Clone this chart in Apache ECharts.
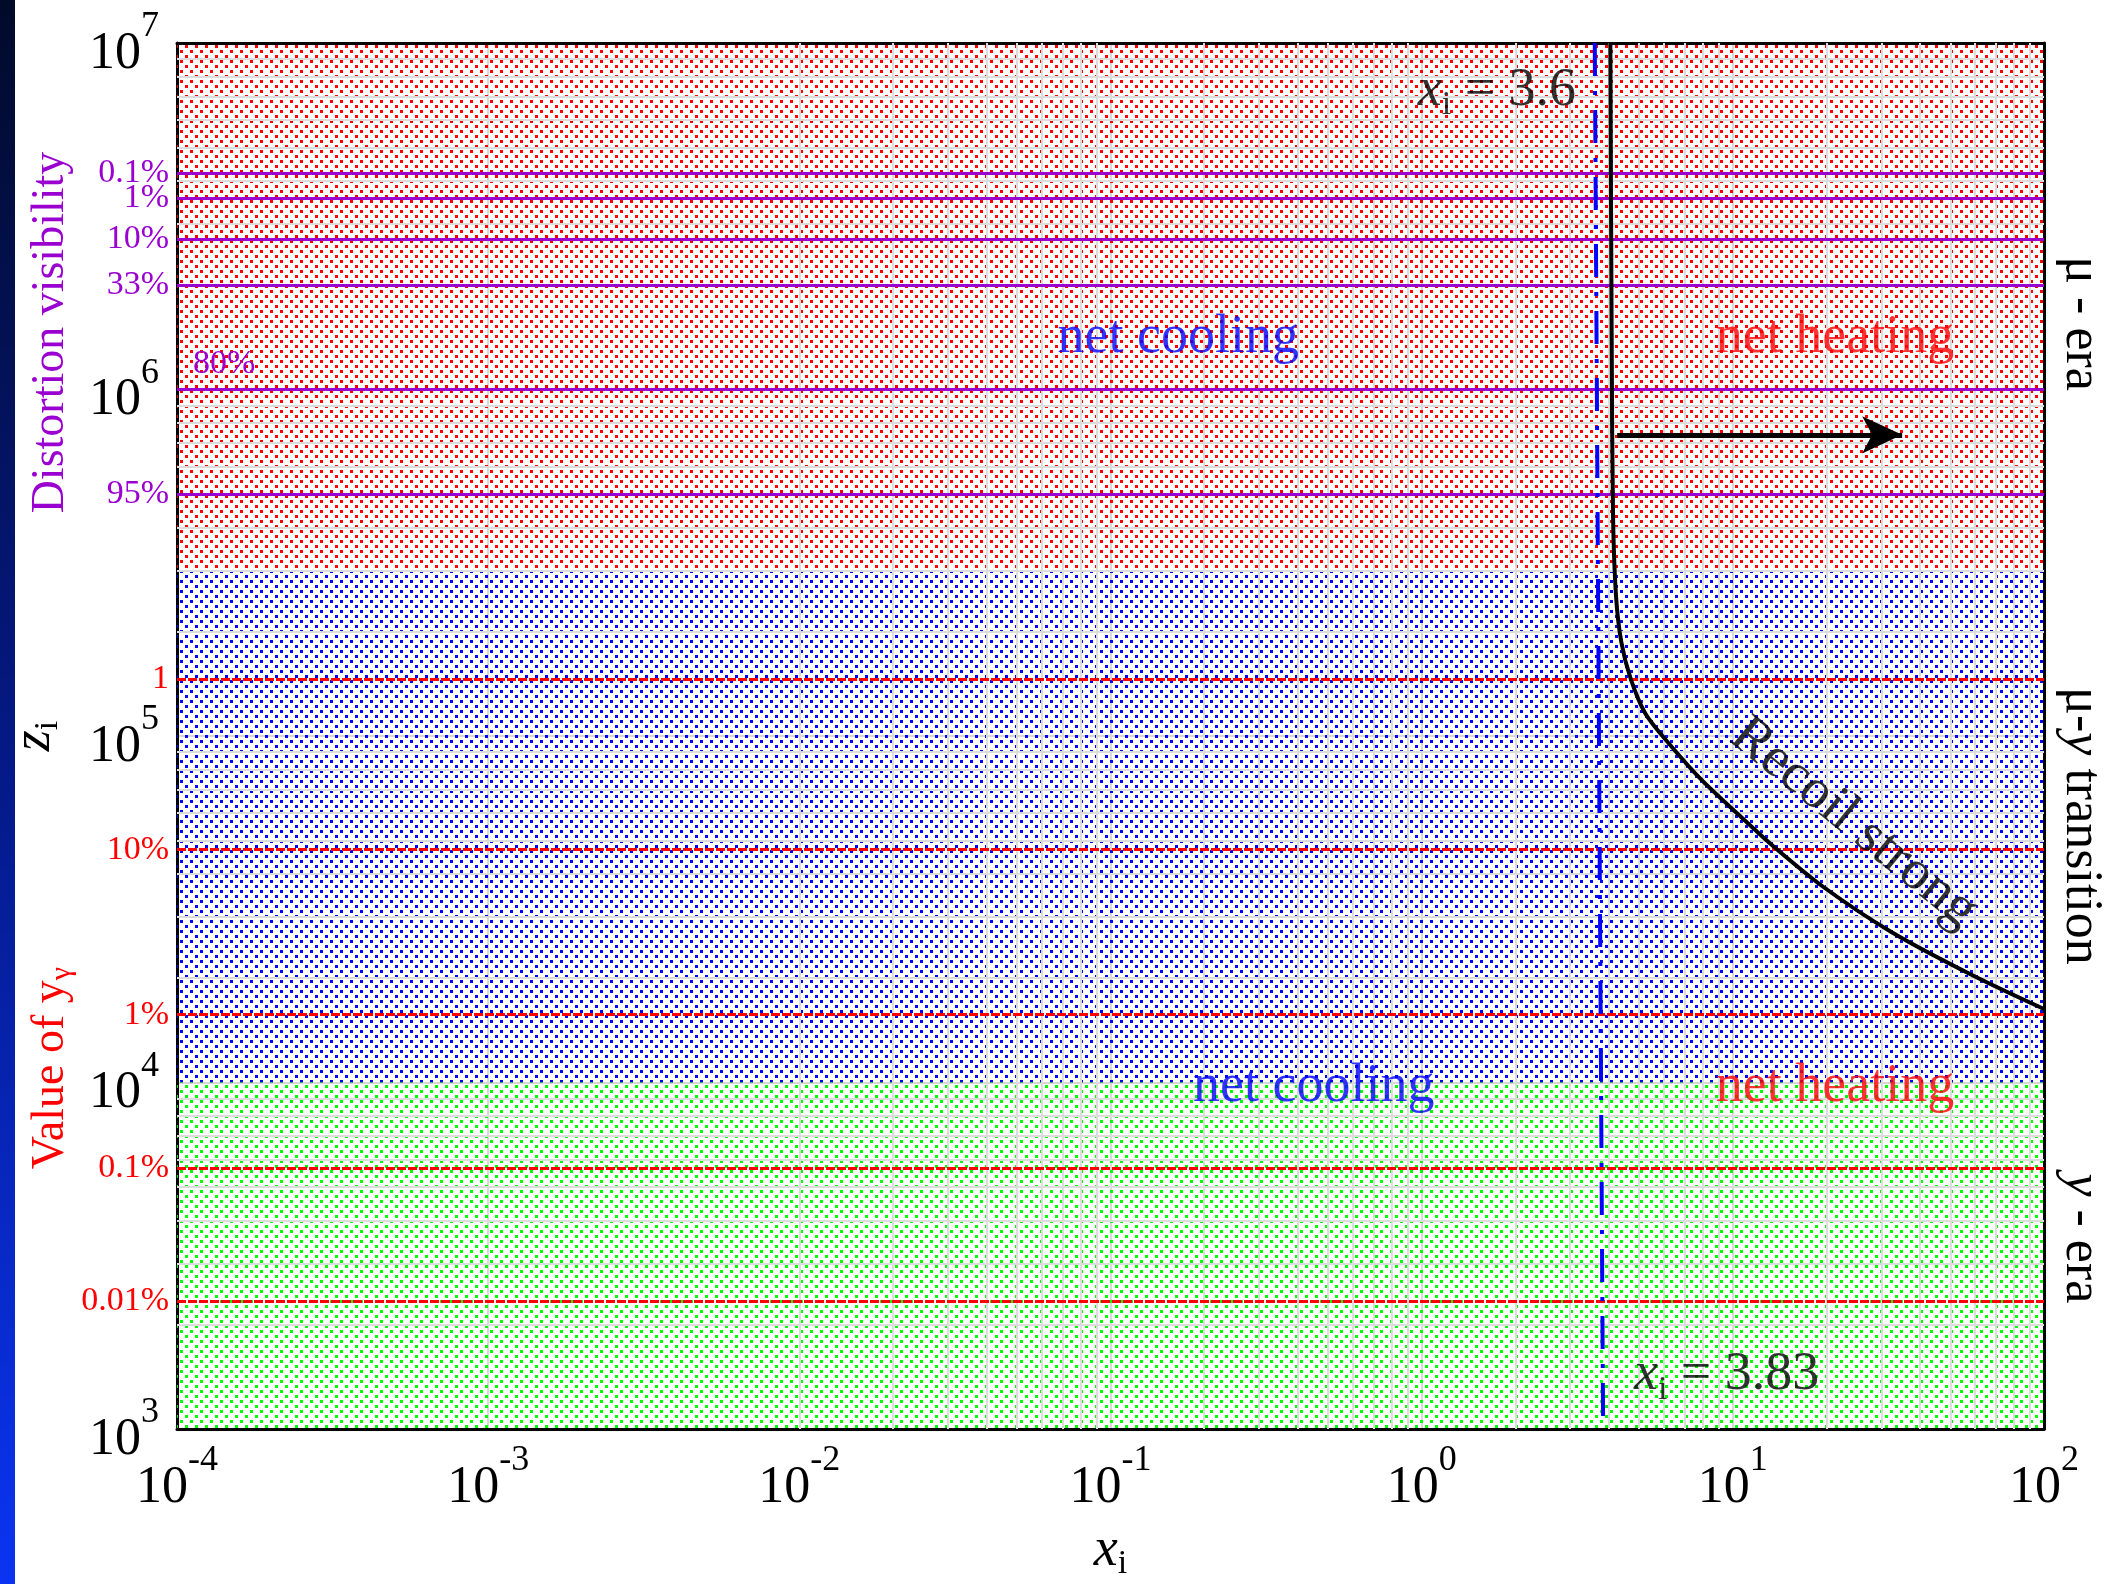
<!DOCTYPE html>
<html>
<head>
<meta charset="utf-8">
<script src="https://cdn.jsdelivr.net/npm/echarts@6/dist/echarts.min.js"></script>
<style>
* { margin: 0; padding: 0; }
html, body { background: #fff; }
#main { width: 2118px; height: 1584px; }
</style>
</head>
<body>
<div id="main"></div>
<script>
// ---- data ----
// decades on the axes (log10)
var xExp = [-4, -3, -2, -1, 0, 1, 2];
var yExp = [3, 4, 5, 6, 7];
var minorMult = [2, 3, 4, 5, 6, 7, 8, 9];

// eras (z ranges)
var eraNames = ['μ - era', 'μ-y transition', 'y - era'];
var eraLow = [3e5, 1e4, 1e3];
var eraHigh = [1e7, 3e5, 1e4];
var eraLabelZ = [1.55e6, 5.5e4, 3.55e3];

// distortion visibility (purple lines)
var visLabels = ['0.1%', '1%', '10%', '33%', '80%', '95%'];
var visZ = [4.22e6, 3.56e6, 2.72e6, 2.0e6, 1.0e6, 5.0e5];

// value of y_gamma (red lines)
var yLabels = ['1', '10%', '1%', '0.1%', '0.01%'];
var yZ = [1.46e5, 4.7e4, 1.57e4, 5.65e3, 2.34e3];

// x_i dash-dot line
var xiLineX = [3.6, 3.83];
var xiLineZ = [1e7, 1e3];

// recoil boundary curve
var recoilX = [4.04, 4.08, 4.12, 4.21, 4.38, 4.70, 5.24, 6.21, 7.98, 10.76, 13.55, 19.6, 32.3, 58.9, 100];
var recoilZ = [1e7, 1.41e6, 4.4e5, 2.56e5, 1.87e5, 1.46e5, 1.16e5, 9.55e4, 7.43e4, 5.78e4, 4.79e4, 3.66e4, 2.72e4, 2.04e4, 1.63e4];

// arrow
var arrowX = [4.25, 35];
var arrowZ = 7.4e5;

// text notes in the plot
var noteText = ['net cooling', 'net heating', 'net cooling', 'net heating'];
var noteX = [0.165, 21.3, 0.45, 21.3];
var noteZ = [1.41e6, 1.41e6, 9.7e3, 9.7e3];
var xiValues = ['3.6', '3.83'];
var xiTextX = [1.745, 9.55];
var xiTextZ = [7.3e6, 1.43e3];
var recoilText = 'Recoil strong';
var recoilTextPos = [24.5, 5.6e4];

// side titles
var sideTitleZ = [1.46e6, 1.1e4];

// ---- styles ----
var FONT = '"Liberation Serif", "Times New Roman", Times, serif';
var PURPLE = '#9A00D0';
var RED = '#FF0000';
var BLUE = '#0000FF';
var eraDotColor = ['#FF0000', '#0000FF', '#00FF00'];
var noteColor = [BLUE, RED, BLUE, RED];

function dots(color) {
  var c = document.createElement('canvas');
  c.width = 10;
  c.height = 10;
  var g = c.getContext('2d');
  g.fillStyle = color;
  g.fillRect(0, 0, 3, 3);
  g.fillRect(5, 5, 3, 3);
  return c;
}

function powLabel(v) {
  return '{b|10}{s|' + Math.round(Math.log10(v)) + '}';
}
var powRich = {
  b: { fontFamily: FONT, fontSize: 52, color: '#000', padding: [22, 0, 0, 0] },
  s: { fontFamily: FONT, fontSize: 36, color: '#000', padding: [0, 0, 32, 0] }
};

var gridData = [];
xExp.slice(0, -1).forEach(function (e) {
  minorMult.forEach(function (m) { gridData.push({ xAxis: m * Math.pow(10, e) }); });
});
yExp.slice(0, -1).forEach(function (e) {
  minorMult.forEach(function (m) { gridData.push({ yAxis: m * Math.pow(10, e) }); });
});

var chart = echarts.init(document.getElementById('main'));

var borderAxis = {
  axisLine: { show: true, lineStyle: { color: '#000', width: 3 } },
  axisTick: { show: false },
  axisLabel: { show: false },
  splitLine: { show: false }
};

var option = {
  animation: false,
  backgroundColor: '#fff',
  grid: { left: 177, right: 74, top: 43, bottom: 155, containLabel: false, outerBoundsMode: 'none' },
  xAxis: [{
    type: 'log', logBase: 10, min: 1e-4, max: 100, splitNumber: 6,
    axisLine: { show: true, lineStyle: { color: '#000', width: 3 } },
    axisTick: { show: false },
    splitLine: { show: true, lineStyle: { color: '#d8d8d8', width: 2 } },
    axisLabel: { margin: 11, formatter: powLabel, rich: powRich, showMinLabel: true, showMaxLabel: true },
    name: '{it|x}{sub|i}', nameLocation: 'middle', nameGap: 92,
    nameTextStyle: {
      rich: {
        it: { fontFamily: FONT, fontStyle: 'italic', fontSize: 54, color: '#000' },
        sub: { fontFamily: FONT, fontSize: 34, color: '#000', padding: [26, 0, 0, 0] }
      }
    }
  }, Object.assign({ type: 'log', logBase: 10, min: 1e-4, max: 100, position: 'top' }, borderAxis)],
  yAxis: [{
    type: 'log', logBase: 10, min: 1e3, max: 1e7, splitNumber: 4,
    axisLine: { show: true, lineStyle: { color: '#000', width: 3 } },
    axisTick: { show: false },
    splitLine: { show: true, lineStyle: { color: '#d8d8d8', width: 2 } },
    axisLabel: { margin: 18, formatter: powLabel, rich: powRich, showMinLabel: true, showMaxLabel: true },
    name: '{it|z}{sub|i}', nameLocation: 'middle', nameGap: 112, nameRotate: 90,
    nameTextStyle: {
      rich: {
        it: { fontFamily: FONT, fontStyle: 'italic', fontSize: 54, color: '#000' },
        sub: { fontFamily: FONT, fontSize: 34, color: '#000', padding: [26, 0, 0, 0] }
      }
    }
  }, Object.assign({ type: 'log', logBase: 10, min: 1e3, max: 1e7, position: 'right' }, borderAxis)],
  series: [
    {
      // minor log grid
      type: 'line', data: [], z: 1, silent: true,
      markLine: {
        silent: true, symbol: ['none', 'none'], label: { show: false },
        lineStyle: { color: '#dcdcdc', width: 2, type: 'solid' },
        emphasis: { disabled: true },
        data: gridData
      }
    },
    {
      // era regions
      type: 'line', data: [], z: 2, silent: true,
      markArea: {
        silent: true, label: { show: false },
        data: eraLow.map(function (lo, i) {
          return [
            { yAxis: lo, itemStyle: { color: { image: dots(eraDotColor[i]), repeat: 'repeat' }, opacity: 1 } },
            { yAxis: eraHigh[i] }
          ];
        })
      }
    },
    {
      // distortion visibility lines
      type: 'line', data: [], z: 4, silent: true,
      markLine: {
        silent: true, symbol: ['none', 'none'],
        lineStyle: { color: PURPLE, width: 3, type: 'solid' },
        label: { show: true, position: 'start', distance: 8, color: PURPLE, fontFamily: FONT, fontSize: 34, formatter: '{b}' },
        data: visZ.map(function (z, i) {
          var d = { name: visLabels[i], yAxis: z };
          if (visLabels[i] === '80%') d.label = { position: 'insideStartTop', distance: [16, 8] };
          return d;
        })
      }
    },
    {
      // y_gamma lines
      type: 'line', data: [], z: 4, silent: true,
      markLine: {
        silent: true, symbol: ['none', 'none'],
        lineStyle: { color: RED, width: 3, type: [9, 2] },
        label: { show: true, position: 'start', distance: 8, color: RED, fontFamily: FONT, fontSize: 34, formatter: '{b}' },
        data: yZ.map(function (z, i) { return { name: yLabels[i], yAxis: z }; })
      }
    },
    {
      // x_i dash-dot line
      type: 'line', z: 5, silent: true, symbol: 'none',
      lineStyle: { color: BLUE, width: 4, type: [33, 15, 4, 15] },
      data: xiLineX.map(function (x, i) { return [x, xiLineZ[i]]; })
    },
    {
      // recoil curve
      type: 'line', z: 6, silent: true, symbol: 'none', smooth: 0.3,
      lineStyle: { color: '#000', width: 4 },
      data: recoilX.map(function (x, i) { return [x, recoilZ[i]]; })
    },
    {
      // arrow
      type: 'line', data: [], z: 6, silent: true,
      markLine: {
        silent: true, symbol: ['none', 'arrow'], symbolSize: [28, 40],
        lineStyle: { color: '#000', width: 5, type: 'solid' },
        label: { show: false },
        data: [[{ coord: [arrowX[0], arrowZ] }, { coord: [arrowX[1], arrowZ] }]]
      }
    },
    {
      // text notes
      type: 'scatter', z: 7, silent: true, symbolSize: 1,
      itemStyle: { color: 'rgba(0,0,0,0)' },
      label: { show: true, position: 'inside', fontFamily: FONT, fontSize: 54 },
      data: noteText.map(function (t, i) {
        return { value: [noteX[i], noteZ[i]], label: { formatter: t, color: noteColor[i] } };
      }).concat(xiValues.map(function (v, i) {
        return {
          value: [xiTextX[i], xiTextZ[i]],
          label: {
            formatter: '{it|x}{sub|i}{n| = ' + v + '}',
            rich: {
              it: { fontFamily: FONT, fontStyle: 'italic', fontSize: 54, color: '#000' },
              sub: { fontFamily: FONT, fontSize: 34, color: '#000', padding: [30, 0, 0, 0] },
              n: { fontFamily: FONT, fontSize: 54, color: '#000' }
            }
          }
        };
      })).concat([{
        value: recoilTextPos,
        label: { formatter: recoilText, color: '#000', rotate: -39, fontSize: 56 }
      }])
    }
  ]
};

chart.setOption(option);

function py(z) { return chart.convertToPixel({ gridIndex: 0 }, [1, z])[1]; }

chart.setOption({
  graphic: [
    {
      type: 'rect', silent: true, shape: { x: 0, y: 0, width: 15, height: 1584 },
      style: { fill: new echarts.graphic.LinearGradient(0, 0, 0, 1, [
        { offset: 0, color: '#020a2a' }, { offset: 0.5, color: '#041a8a' }, { offset: 1, color: '#0a34f2' }
      ]) }
    },
    {
      type: 'text', silent: true, x: 51, y: py(sideTitleZ[0]), rotation: Math.PI / 2,
      style: { text: 'Distortion visibility', fill: PURPLE, fontFamily: FONT, fontSize: 46, align: 'center', verticalAlign: 'middle' }
    },
    {
      type: 'text', silent: true, x: 51, y: py(sideTitleZ[1]), rotation: Math.PI / 2,
      style: {
        text: '{a|Value of y}{g|γ}', align: 'center', verticalAlign: 'middle',
        rich: {
          a: { fill: RED, fontFamily: FONT, fontSize: 46 },
          g: { fill: RED, fontFamily: FONT, fontSize: 30, padding: [22, 0, 0, 0] }
        }
      }
    }
  ].concat(eraNames.map(function (n, i) {
    var txt = n.replace('y', '{i|y}');
    txt = txt.split('{i|y}').map(function (p) { return p ? '{a|' + p + '}' : ''; }).join('{i|y}');
    return {
      type: 'text', silent: true, x: 2081, y: py(eraLabelZ[i]), rotation: -Math.PI / 2,
      style: {
        text: txt, align: 'center', verticalAlign: 'middle',
        rich: {
          a: { fill: '#000', fontFamily: FONT, fontSize: 52 },
          i: { fill: '#000', fontFamily: FONT, fontStyle: 'italic', fontSize: 52 }
        }
      }
    };
  }))
});
</script>
</body>
</html>
